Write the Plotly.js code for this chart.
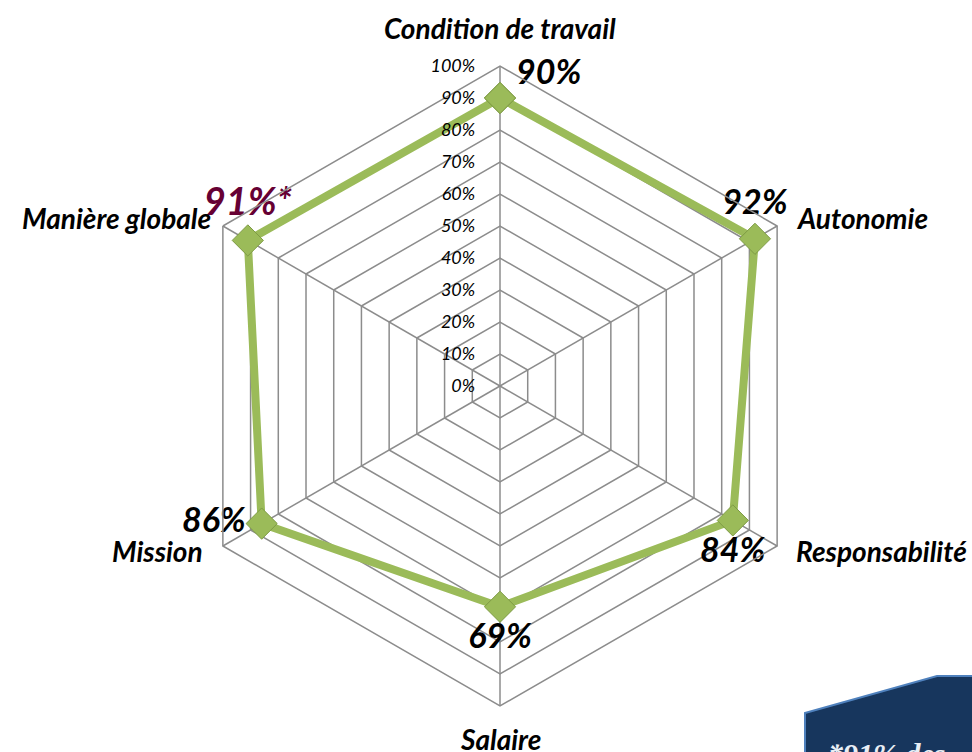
<!DOCTYPE html>
<html>
<head>
<meta charset="utf-8">
<script src="https://cdn.plot.ly/plotly-3.0.1.min.js"></script>
<style>html,body{margin:0;padding:0;background:#fff;}#chart{width:972px;height:752px;}</style>
</head>
<body>
<div id="chart"></div>
<script>
const categories = ["Condition de travail", "Autonomie", "Responsabilité", "Salaire", "Mission", "Manière globale"];
const values = [90, 92, 84, 69, 86, 91];
const valueLabels = ["90%", "92%", "84%", "69%", "86%", "91%*"];
const labelPositions = ["middle right", "top center", "bottom center", "bottom center", "middle left", "top center"];
const labelColors = ["#000000", "#000000", "#000000", "#000000", "#000000", "#660033"];
const labelSizes = [34, 34, 34, 34, 34, 38];
const radialTicks = [0, 10, 20, 30, 40, 50, 60, 70, 80, 90, 100];
const noteText = "*91% des";

const W = 972, H = 752;
const cx = 500, cy = 386, R = 320;
const FONT = "Lato, 'Open Sans', Arial, sans-serif";

// the top label sits above-right of its marker: an empty second line lifts it
const shownLabels = valueLabels.map((t, i) => i === 0 ? t + "<br> " : t);

const trace = {
  type: "scatterpolar",
  r: values.concat([values[0]]),
  theta: categories.concat([categories[0]]),
  mode: "lines+markers+text",
  text: shownLabels.concat([""]),
  textposition: labelPositions.concat(["top center"]),
  textfont: {family: FONT, size: labelSizes.concat([34]), weight: "bold", style: "italic", color: labelColors.concat(["#000"])},
  line: {color: "#9BBB59", width: 8},
  marker: {symbol: "diamond", size: 24, color: "#9BBB59", line: {color: "#7E9B45", width: 1}},
  hoverinfo: "skip",
  cliponaxis: false
};

// category labels placed just outside each axis end
const catAnns = categories.map((c, i) => {
  const a = (90 - i * 60) * Math.PI / 180;
  const vx = cx + R * Math.cos(a), vy = cy - R * Math.sin(a);
  let x, y, xa;
  const s = Math.sin(a);
  if (Math.abs(Math.cos(a)) < 0.01) { x = vx; y = s > 0 ? vy - 38 : vy + 33; xa = "center"; }
  else if (Math.cos(a) > 0) { x = vx + 17; y = vy + (s > 0 ? -8 : 5); xa = "left"; }
  else { x = vx - (s > 0 ? 10 : 18); y = vy + (s > 0 ? -8 : 5); xa = "right"; }
  return {xref: "paper", yref: "paper", x: x / W, y: 1 - y / H, xanchor: xa, yanchor: "middle",
    showarrow: false, text: c,
    font: {family: FONT, size: 28, weight: "bold", style: "italic", color: "#000"}};
});

const layout = {
  width: W, height: H,
  margin: {l: 0, r: 0, t: 0, b: 0},
  paper_bgcolor: "#ffffff",
  showlegend: false,
  polar: {
    domain: {x: [(cx - R) / W, (cx + R) / W], y: [(H - cy - R) / H, (H - cy + R) / H]},
    gridshape: "linear",
    bgcolor: "#ffffff",
    radialaxis: {
      range: [0, 100],
      tickvals: radialTicks,
      ticktext: radialTicks.map(v => v + "%"),
      angle: 90,
      tickangle: 90,
      side: "counterclockwise",
      showline: false,
      ticks: "outside",
      ticklen: 18,
      tickcolor: "rgba(0,0,0,0)",
      gridcolor: "#8C8C8C",
      gridwidth: 1.5,
      tickfont: {family: FONT, size: 18, style: "italic", color: "#000"}
    },
    angularaxis: {
      direction: "clockwise",
      rotation: 90,
      showline: true,
      showticklabels: false,
      linecolor: "#8C8C8C",
      linewidth: 1.5,
      gridcolor: "#8C8C8C",
      gridwidth: 1.5,
      ticks: ""
    }
  },
  shapes: [{
    type: "path", xref: "paper", yref: "paper",
    path: "M " + (805 / W) + "," + (1 - 713 / H) + " L " + (937 / W) + "," + (1 - 676 / H) + " L 1.02," + (1 - 676 / H) + " L 1.02,-0.02 L " + (805 / W) + ",-0.02 Z",
    fillcolor: "#17365D",
    line: {color: "#4F81BD", width: 2}
  }],
  annotations: catAnns.concat([{
    xref: "paper", yref: "paper", x: 826 / W, y: 1 - 735 / H,
    xanchor: "left", yanchor: "top", showarrow: false,
    text: noteText,
    font: {family: "Liberation Serif, DejaVu Serif, serif", size: 30, weight: "bold", style: "italic", color: "#E8EEF5"}
  }])
};

Plotly.newPlot("chart", [trace], layout, {staticPlot: true});
</script>
</body>
</html>
